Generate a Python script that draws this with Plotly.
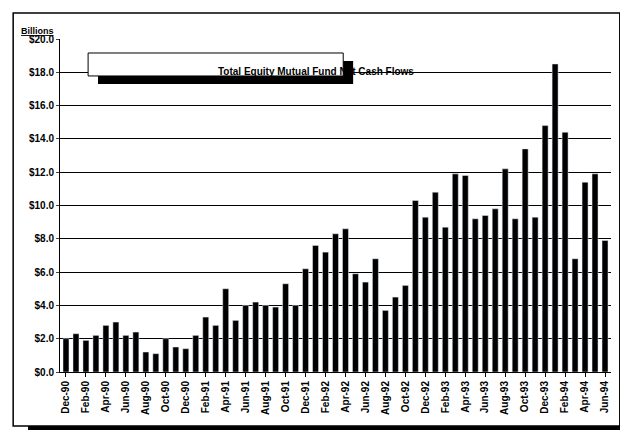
import plotly.graph_objects as go

values = [2.0,2.3,1.9,2.2,2.8,3.0,2.2,2.4,1.2,1.1,2.0,1.5,1.4,2.2,3.3,2.8,5.0,3.1,4.0,4.2,
          4.0,3.9,5.3,4.0,6.2,7.6,7.2,8.3,8.6,5.9,5.4,6.8,3.7,4.5,5.2,10.3,9.3,10.8,8.7,11.9,
          11.8,9.2,9.4,9.8,12.2,9.2,13.4,9.3,14.8,18.5,14.4,6.8,11.4,11.9,7.9]
tick_labels = ["Dec-90","Feb-90","Apr-90","Jun-90","Aug-90","Oct-90","Dec-90","Feb-91","Apr-91",
               "Jun-91","Aug-91","Oct-91","Dec-91","Feb-92","Apr-92","Jun-92","Aug-92","Oct-92",
               "Dec-92","Feb-93","Apr-93","Jun-93","Aug-93","Oct-93","Dec-93","Feb-94","Apr-94","Jun-94"]
x = list(range(len(values)))
tickvals = x[::2]
yticks = [0,2,4,6,8,10,12,14,16,18,20]
ytext = ["$%.1f" % v for v in yticks]

fig = go.Figure(go.Bar(x=x, y=values, marker_color="black", width=0.6))
D = dict(xref="x domain", yref="y domain")
fig.update_layout(
    width=628, height=430, paper_bgcolor="white", plot_bgcolor="white",
    margin=dict(l=52, r=25, t=31, b=66, autoexpand=False), showlegend=False,
    font=dict(family="Liberation Sans", color="black", size=10),
    xaxis=dict(tickvals=tickvals, ticktext=tick_labels, tickangle=-90, range=[-0.6, 54.6],
               automargin=False,
               ticks="outside", ticklen=4, tickcolor="black", showline=True, linecolor="black",
               tickfont=dict(size=10, family="Liberation Sans", weight="bold")),
    yaxis=dict(tickvals=yticks, ticktext=ytext, range=[0, 20], showgrid=True, gridcolor="black",
               gridwidth=1, showline=True, linecolor="black", ticks="outside", ticklen=3,
               automargin=False,
               tickfont=dict(size=10, family="Liberation Sans", weight="bold")),
    shapes=[
        dict(type="rect", **D, x0=-0.085, x1=1.016, y0=-0.162, y1=1.078,
             line=dict(color="black", width=1.5), layer="below"),
        dict(type="rect", **D, x0=-0.058, x1=1.03, y0=-0.186, y1=-0.162,
             fillcolor="black", line=dict(width=0)),
        dict(type="rect", **D, x0=1.016, x1=1.03, y0=-0.186, y1=1.05,
             fillcolor="black", line=dict(width=0)),
        dict(type="rect", **D, x0=0.069, x1=0.532, y0=0.865, y1=0.934,
             fillcolor="black", line=dict(width=0)),
        dict(type="rect", **D, x0=0.051, x1=0.514, y0=0.889, y1=0.958,
             fillcolor="white", line=dict(color="black", width=1)),
    ],
    annotations=[
        dict(text="<b>Total Equity Mutual Fund Net Cash Flows</b>", **D,
             x=0.2825, y=0.9235, showarrow=False, font=dict(size=10)),
        dict(text="<b><u>Billions</u></b>", **D, x=-0.075, y=1.003,
             xanchor="left", yanchor="bottom", showarrow=False, font=dict(size=9)),
    ],
)
fig.write_html("out.html")
